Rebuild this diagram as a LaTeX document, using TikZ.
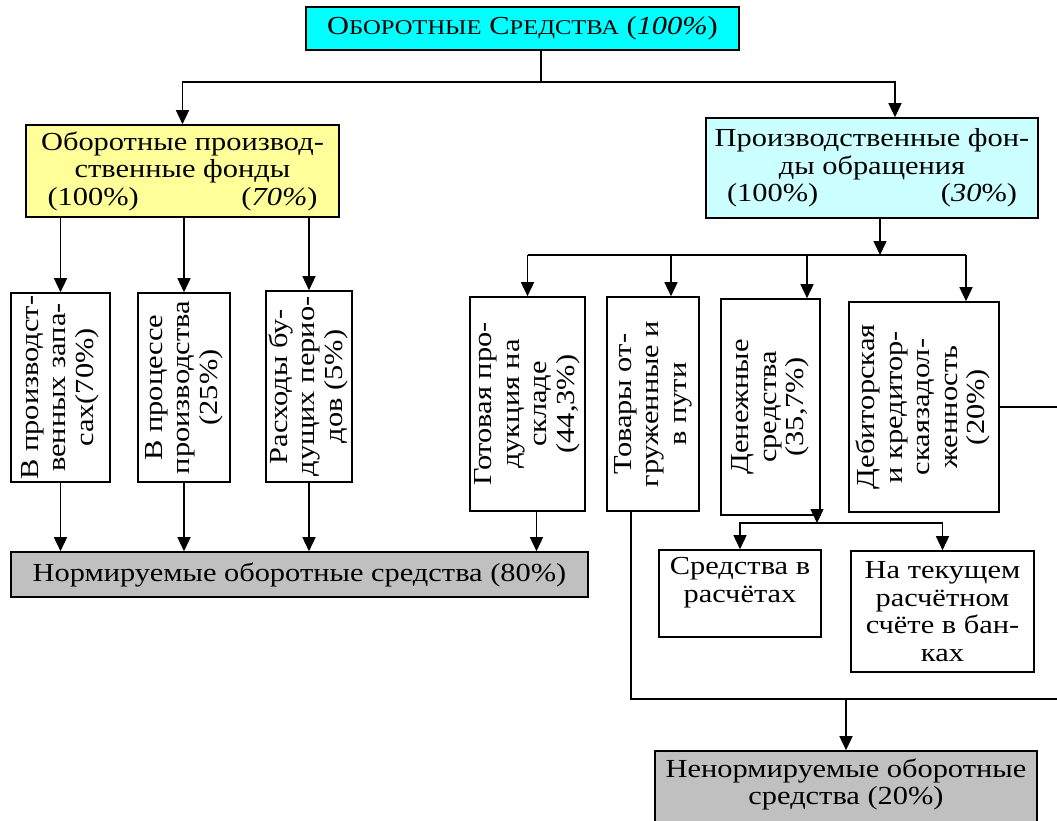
\documentclass[tikz,border=0pt]{standalone}
\usepackage{fontspec}
\setmainfont{Liberation Serif}[FakeStretch=1.17]
\usepackage{graphicx}
\usetikzlibrary{arrows.meta}
\definecolor{topcyan}{HTML}{00FFFF}
\definecolor{opfyellow}{HTML}{FFFF99}
\definecolor{pfocyan}{HTML}{CCFFFF}
\definecolor{normgray}{HTML}{C0C0C0}
\newcommand{\capsmall}[1]{{\fontsize{21}{22}\selectfont #1}}
\newcommand{\vtext}[1]{\rotatebox{90}{\begin{tabular}{@{}c@{}}#1\end{tabular}}}
\tikzset{
	blk/.style={draw, line width=1.6pt, align=center, inner sep=1pt},
	ln/.style={line width=1.5pt},
	arr/.style={ln, -{Triangle[length=14pt,width=13pt]}}
}

\begin{document}
\begin{tikzpicture}[x=1pt,y=-1pt,font=\fontsize{26}{27.5}\selectfont]
		\useasboundingbox (0,0) rectangle (1057,820);
		\node[blk, fill=topcyan, minimum width=433, minimum height=43] (os) at (522.5,28.5) {О\capsmall{БОРОТНЫЕ} С\capsmall{РЕДСТВА} (\textit{100\%})};
		\node[blk, fill=opfyellow, minimum width=313, minimum height=92] (opf) at (182.5,171) {Оборотные производ-\\ственные фонды\\\makebox[270pt]{(100\%)\hfill(\textit{70\%})}};
		\node[blk, fill=pfocyan, minimum width=332, minimum height=100] (pfo) at (872,168) {Производственные фон-\\ды обращения\\\makebox[290pt]{(100\%)\hfill(\textit{30}\%)}};
		\node[blk, minimum width=99, minimum height=189] (zap) at (60.5,387.5) {\vtext{В производст-\\венных запа-\\сах(70\%)}};
		\node[blk, minimum width=92, minimum height=189] (nzp) at (184,387.5) {\vtext{В процессе\\производства\\(25\%)}};
		\node[blk, minimum width=86, minimum height=191] (rbp) at (309,386.5) {\vtext{Расходы бу-\\дущих перио-\\дов (5\%)}};
		\node[blk, minimum width=115, minimum height=214] (gp) at (527.5,404) {\vtext{Готовая про-\\дукция на\\складе\\(44,3\%)}};
		\node[blk, minimum width=92, minimum height=214] (tov) at (653,404) {\vtext{Товары от-\\груженные и\\в пути}};
		\node[blk, minimum width=99, minimum height=216] (den) at (770.5,407) {\vtext{Денежные\\средства\\(35,7\%)}};
		\node[blk, minimum width=150, minimum height=210] (deb) at (924,407) {\vtext{Дебиторская\\и кредитор-\\скаязадол-\\женность\\(20\%)}};
		\node[blk, fill=normgray, minimum width=577, minimum height=45] (norm) at (299.5,574.5) {Нормируемые оборотные средства (80\%)};
		\node[blk, minimum width=162, minimum height=87] (rasch) at (740,593.5) {Средства в\\расчётах\\~};
		\node[blk, minimum width=183, minimum height=121] (bank) at (942.5,611.5) {На текущем\\расчётном\\счёте в бан-\\ках};
		\node[blk, fill=normgray, minimum width=382, minimum height=89] (nenorm) at (846,795.5) {Ненормируемые оборотные\\средства (20\%)\\~};
		\coordinate (sp1) at (541,82);
		\coordinate (sp1r) at (895,82);
		\draw[ln] (os.south -| sp1) -- (sp1);
		\draw[arr] (sp1) -| (opf.north);
		\draw[arr] (sp1) -- (sp1r) -- (sp1r |- pfo.north);
		\foreach \b in {zap,nzp,rbp} {
			\draw[arr] (\b.north |- opf.south) -- (\b.north);
			\draw[arr] (\b.south) -- (\b.south |- norm.north);
		}
		\coordinate (sp2) at (880,255);
		\coordinate (t2) at (671,255);
		\coordinate (t3) at (807,255);
		\coordinate (t4) at (966,255);
		\draw[arr] (pfo.south -| sp2) -- (sp2);
		\draw[ln] (gp.north |- sp2) -- (t4);
		\draw[arr] (gp.north |- sp2) -- (gp.north);
		\draw[arr] (t2) -- (t2 |- tov.north);
		\draw[arr] (t3) -- (t3 |- den.north);
		\draw[arr] (t4) -- (t4 |- deb.north);
		\draw[arr] ([xshift=9pt]gp.south) -- ([xshift=9pt]gp.south |- norm.north);
		\coordinate (sp5) at (817,523);
		\draw[arr] (den.south -| sp5) -- (sp5);
		\draw[arr] (sp5) -| (rasch.north);
		\draw[arr] (sp5) -| (bank.north);
		\coordinate (sp3) at (631,699);
		\coordinate (edge3) at (1060,699);
		\draw[ln] (tov.south -| sp3) -- (sp3) -- (edge3);
		\draw[arr] (nenorm.north |- sp3) -- (nenorm.north);
		\draw[ln] (deb.east) -- (deb.east -| edge3);
	\end{tikzpicture}
\end{document}
